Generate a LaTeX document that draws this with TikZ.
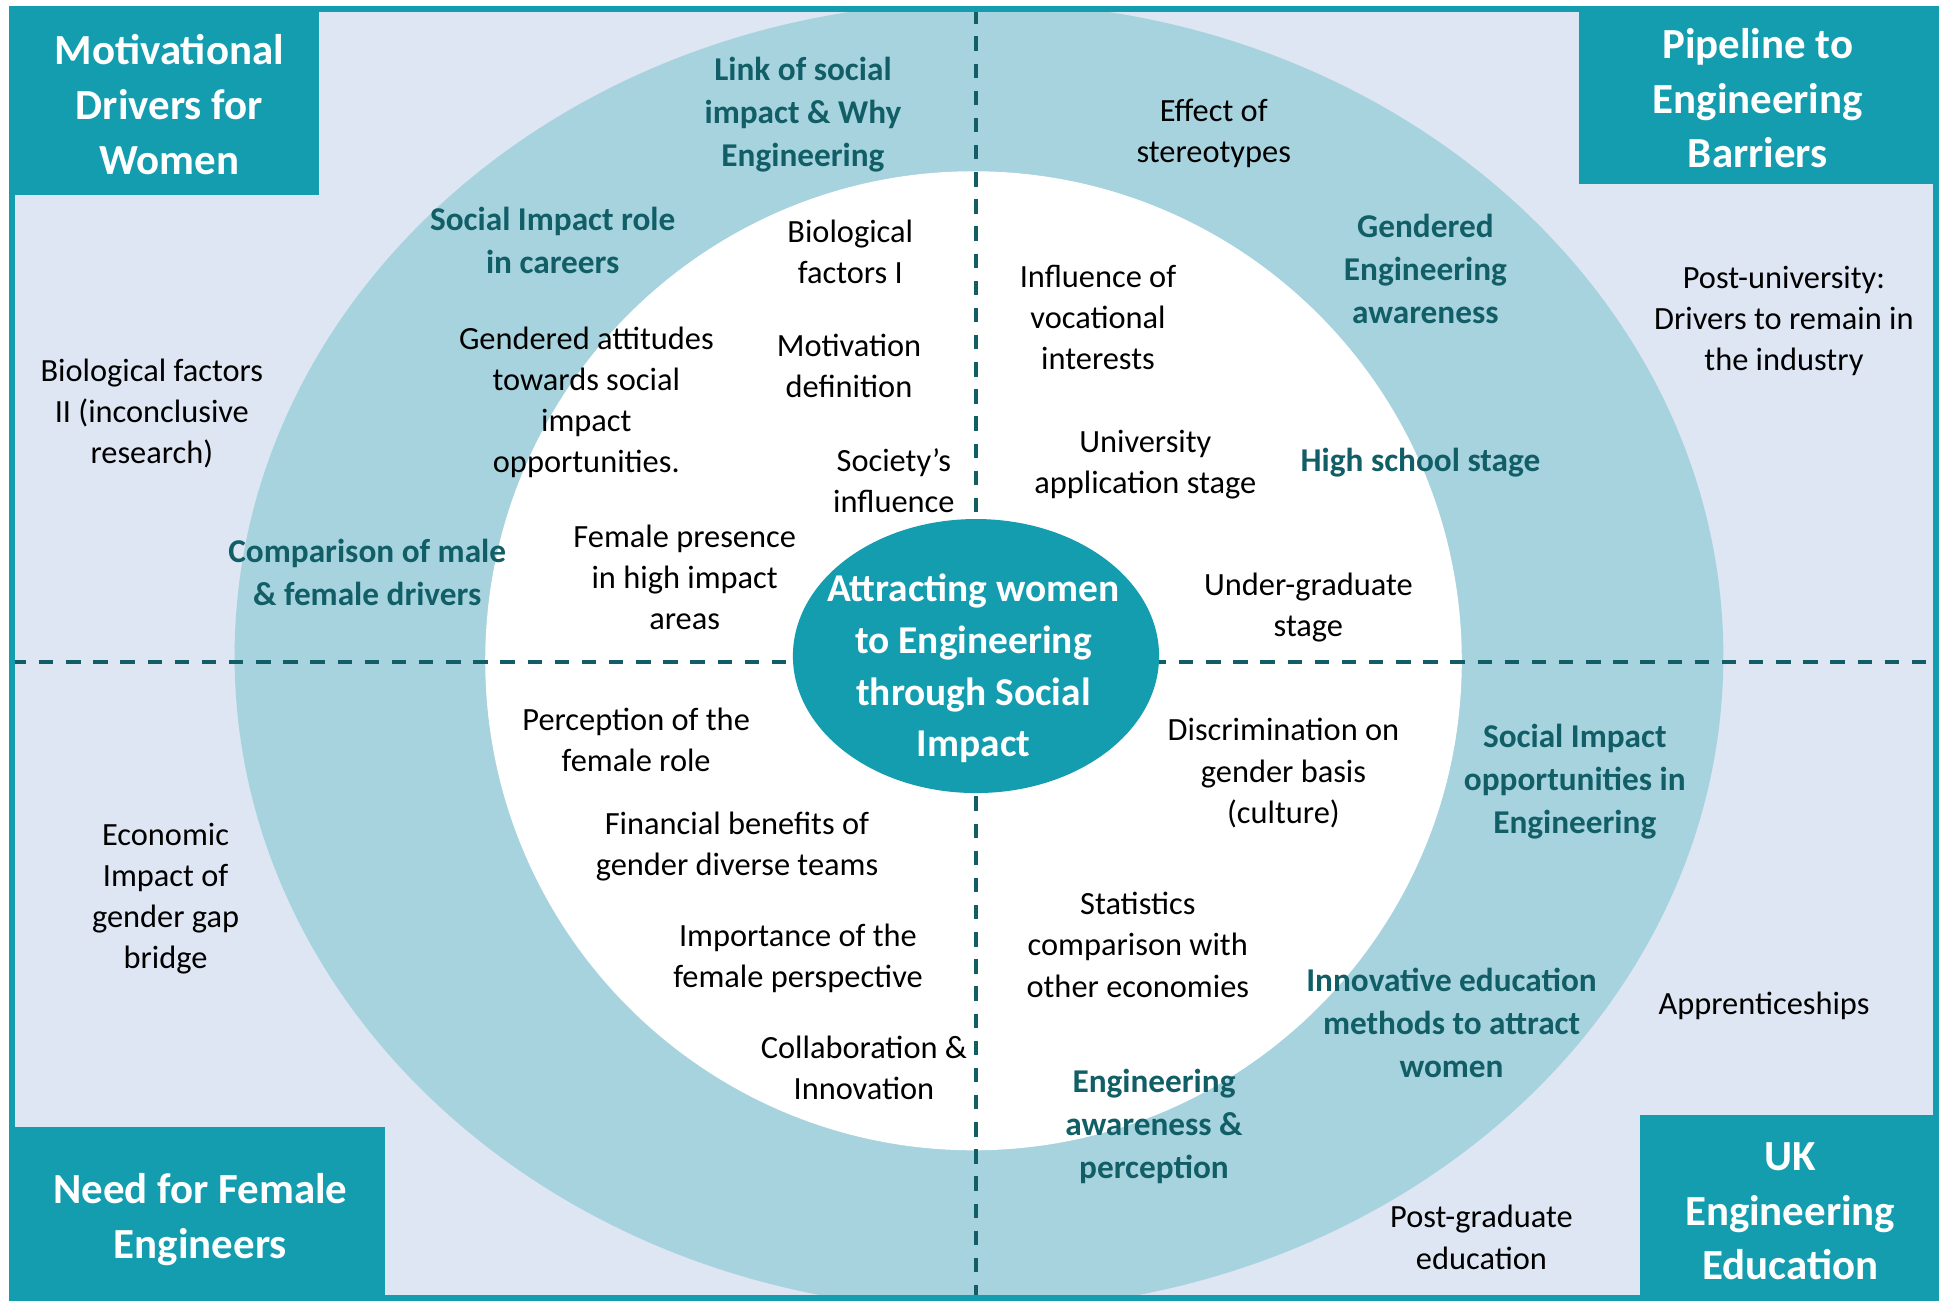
\documentclass[tikz,border=0pt]{standalone}
\usepackage{fontspec}
\setmainfont{Carlito}

\definecolor{boxteal}{HTML}{139DAF}
\definecolor{ringblue}{HTML}{A6D3DE}
\definecolor{paleback}{HTML}{DEE6F3}
\definecolor{deepteal}{HTML}{115E67}

\begin{document}
\begin{tikzpicture}[x=0.01cm,y=0.01cm,
  item/.style={align=center,inner sep=0pt,yshift=-0.02cm,font=\fontsize{7.4}{9.4}\selectfont},
  theme/.style={align=center,inner sep=0pt,yshift=-0.02cm,text=deepteal,font=\fontsize{7.6}{9.8}\selectfont\bfseries},
  heading/.style={align=center,inner sep=0pt,text=white,font=\fontsize{9.8}{12.5}\selectfont\bfseries},
  hubtext/.style={align=center,inner sep=0pt,text=white,font=\fontsize{9}{11.8}\selectfont\bfseries},
  divider/.style={deepteal,line width=0.9pt,dash pattern=on 3.3pt off 2.9pt}]
  \useasboundingbox (0,0) rectangle (1568,1045);

  % Frame and rings
  \fill[paleback] (9.5,2.5) rectangle (1555,1037.5);
  \begin{scope}
    \clip (9.5,2.5) rectangle (1555,1037.5);
    \fill[ringblue] (786.4,518) ellipse [x radius=5.976cm,y radius=5.25cm];
  \end{scope}
  \fill[white] (782,514.2) ellipse [x radius=3.92cm,y radius=3.93cm];

  % Quadrant dividers
  \coordinate (west) at (9.5,513.5);
  \coordinate (east) at (1555,513.5);
  \coordinate (north) at (784,1037.5);
  \coordinate (south) at (784,2.5);
  \draw[divider] (west) -- (east);
  \draw[divider] (north) -- (south);

  % Hub
  \fill[boxteal] (784,518) ellipse [x radius=1.47cm,y radius=1.1cm];
  \node[hubtext] (hub) at (782,508) {Attracting women\\to Engineering\\through Social\\Impact};

  % Corner boxes
  \draw[boxteal,line width=1.4pt] (9.5,2.5) rectangle (1555,1037.5);
  \fill[boxteal] (9.5,888) rectangle (256,1037.5);
  \fill[boxteal] (1268,897) rectangle (1557,1037.5);
  \fill[boxteal] (9.5,0) rectangle (309,140);
  \fill[boxteal] (1317,0) rectangle (1557,149);
  \node[heading] (drivers) at (136,961) {Motivational\\Drivers for\\Women};
  \node[heading] (pipeline) at (1412,966) {Pipeline to\\Engineering\\Barriers};
  \node[heading] (need) at (161,65.5) {Need for Female\\Engineers};
  \node[heading] (ukedu) at (1438,72) {UK\\Engineering\\Education};

  % Themes on the ring
  \node[theme] (link) at (645,955) {Link of social\\impact \& Why\\Engineering};
  \node[theme] (careers) at (444,854) {Social Impact role\\in careers};
  \node[theme] (compare) at (295,587) {Comparison of male\\\& female drivers};
  \node[theme] (gendered) at (1145,831) {Gendered\\Engineering\\awareness};
  \node[theme] (school) at (1141,675) {High school stage};
  \node[theme] (opport) at (1265,419) {Social Impact\\opportunities in\\Engineering};
  \node[theme] (methods) at (1166,225) {Innovative education\\methods to attract\\women};
  \node[theme] (aware) at (927,142) {Engineering\\awareness \&\\perception};

  % Top left quarter
  \node[item] (bioII) at (122,715) {Biological factors\\II (inconclusive\\research)};
  \node[item] (bioI) at (683,845) {Biological\\factors I};
  \node[item] (attitudes) at (471,724) {Gendered attitudes\\towards social\\impact\\opportunities.};
  \node[item] (motiv) at (682,753) {Motivation\\definition};
  \node[item] (society) at (718,661) {Society’s\\influence};
  \node[item] (presence) at (550,583) {Female presence\\in high impact\\areas};

  % Top right quarter
  \node[item] (stereo) at (975,940) {Effect of\\stereotypes};
  \node[item] (postuni) at (1433,789) {Post-university:\\Drivers to remain in\\the industry};
  \node[item] (vocation) at (882,792) {Influence of\\vocational\\interests};
  \node[item] (uniapp) at (920,674) {University\\application stage};
  \node[item] (undergrad) at (1051,559) {Under-graduate\\stage};

  % Bottom left quarter
  \node[item] (role) at (511,453) {Perception of the\\female role};
  \node[item] (finance) at (592,367) {Financial benefits of\\gender diverse teams};
  \node[item] (perspective) at (641,277) {Importance of the\\female perspective};
  \node[item] (collab) at (694,189) {Collaboration \&\\Innovation};
  \node[item] (econ) at (133,325) {Economic\\Impact of\\gender gap\\bridge};

  % Bottom right quarter
  \node[item] (discrim) at (1031,426) {Discrimination on\\gender basis\\(culture)};
  \node[item] (stats) at (914,288) {Statistics\\comparison with\\other economies};
  \node[item] (apprent) at (1417,239) {Apprenticeships};
  \node[item] (postgrad) at (1190,53) {Post-graduate\\education};
\end{tikzpicture}
\end{document}
